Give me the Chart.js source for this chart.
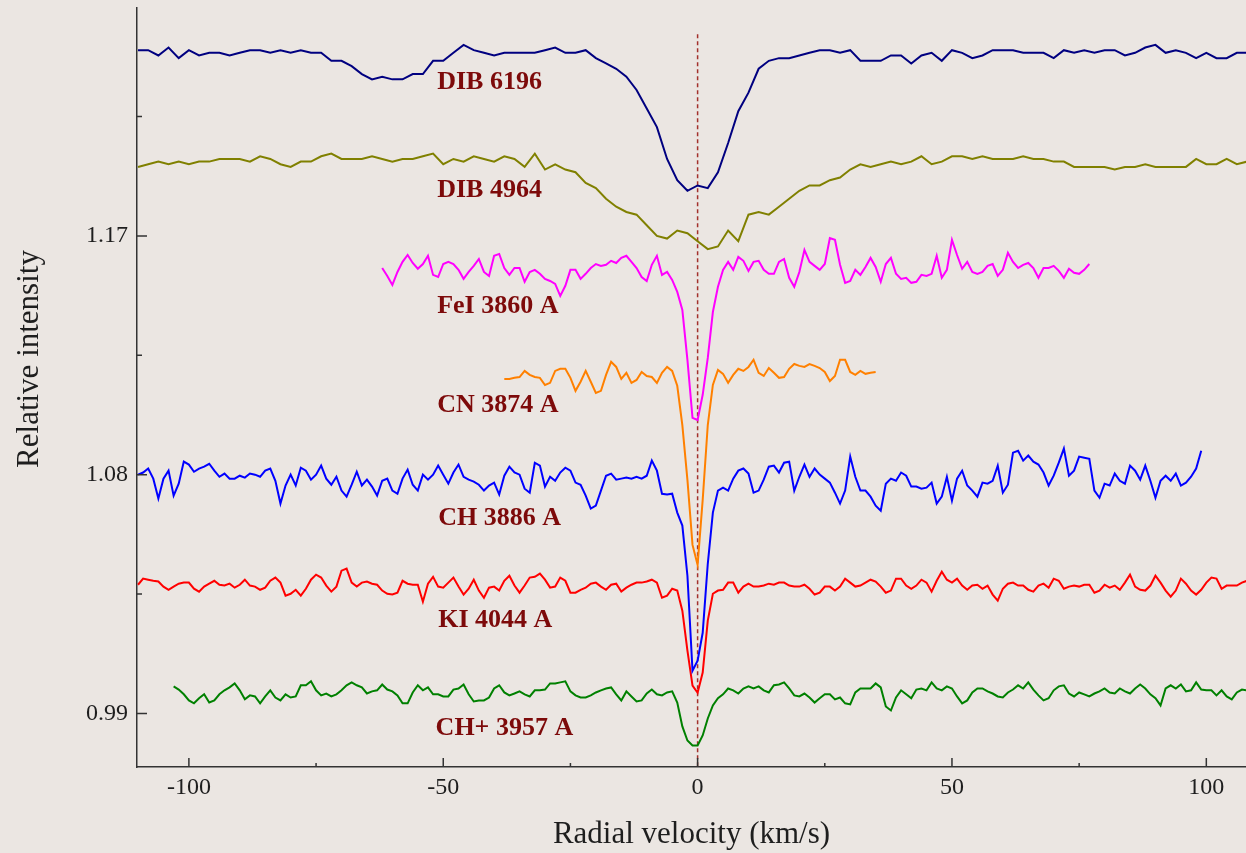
<!DOCTYPE html>
<html>
<head>
<meta charset="utf-8">
<title>Interstellar lines</title>
<script src="https://cdn.jsdelivr.net/npm/chart.js@4.4.1/dist/chart.umd.min.js"></script>
<style>
    html, body { margin: 0; padding: 0; background: #ebe6e2; }
    #wrap { position: relative; width: 1246px; height: 853px; }
</style>
</head>
<body>
<div id="wrap"><canvas id="spectra"></canvas></div>
<script>
/* ---- data: relative intensity vs radial velocity (km/s) ---- */

// DIB 6196, sampled every 2 km/s from -110
const dib6196Start = -110, dib6196Step = 2;
const dib6196 = [
    1.240,1.240,1.238,1.241,1.237,1.240,1.238,1.239,1.239,1.238,
    1.239,1.240,1.240,1.239,1.240,1.239,1.240,1.239,1.239,1.236,
    1.236,1.234,1.231,1.229,1.230,1.229,1.229,1.231,1.231,1.236,
    1.236,1.239,1.242,1.240,1.239,1.238,1.239,1.239,1.239,1.239,
    1.240,1.241,1.239,1.239,1.240,1.237,1.235,1.233,1.230,1.225,
    1.218,1.211,1.199,1.191,1.187,1.189,1.188,1.194,1.205,1.217,
    1.224,1.233,1.236,1.237,1.237,1.238,1.239,1.240,1.240,1.239,
    1.240,1.236,1.236,1.236,1.238,1.238,1.235,1.238,1.239,1.236,
    1.240,1.239,1.237,1.238,1.240,1.240,1.240,1.239,1.239,1.239,
    1.237,1.240,1.239,1.240,1.239,1.240,1.240,1.238,1.239,1.241,
    1.242,1.239,1.240,1.239,1.237,1.239,1.237,1.237,1.239,1.239
];

// DIB 4964, every 2 km/s from -110
const dib4964Start = -110, dib4964Step = 2;
const dib4964 = [
    1.196,1.197,1.198,1.197,1.198,1.197,1.198,1.198,1.199,1.199,
    1.199,1.198,1.200,1.199,1.197,1.196,1.198,1.198,1.200,1.201,
    1.199,1.199,1.199,1.200,1.199,1.198,1.199,1.199,1.200,1.201,
    1.197,1.199,1.198,1.200,1.199,1.198,1.200,1.199,1.196,1.201,
    1.195,1.197,1.195,1.194,1.190,1.188,1.184,1.181,1.179,1.178,
    1.174,1.170,1.169,1.172,1.171,1.168,1.165,1.166,1.172,1.168,
    1.178,1.179,1.178,1.181,1.184,1.187,1.189,1.189,1.191,1.192,
    1.195,1.197,1.196,1.197,1.198,1.197,1.198,1.200,1.197,1.198,
    1.200,1.200,1.199,1.200,1.199,1.199,1.199,1.200,1.199,1.199,
    1.198,1.198,1.196,1.196,1.196,1.196,1.195,1.196,1.196,1.197,
    1.196,1.196,1.196,1.196,1.199,1.197,1.197,1.199,1.197,1.198
];

// FeI 3860 A, every 1 km/s from -62
const feiStart = -62, feiStep = 1;
const fei3860 = [
    1.1579,1.1549,1.1515,1.1564,1.1602,1.1628,1.1598,1.1576,1.1594,1.1625,
    1.1553,1.1545,1.1594,1.1602,1.1594,1.1572,1.1538,1.1564,1.1587,1.1613,
    1.1564,1.1549,1.1625,1.1632,1.1579,1.1553,1.1579,1.1579,1.1527,1.1564,
    1.1572,1.1557,1.1538,1.1530,1.1519,1.1474,1.1512,1.1572,1.1572,1.1538,
    1.1557,1.1579,1.1594,1.1587,1.1591,1.1606,1.1598,1.1617,1.1625,1.1602,
    1.1579,1.1545,1.1530,1.1591,1.1625,1.1553,1.1564,1.1534,1.1489,1.1421,
    1.1233,1.1014,1.1006,1.1101,1.1240,1.1413,1.1508,1.1572,1.1602,1.1572,
    1.1621,1.1606,1.1568,1.1602,1.1606,1.1572,1.1557,1.1557,1.1602,1.1613,
    1.1542,1.1508,1.1564,1.1647,1.1602,1.1587,1.1572,1.1594,1.1692,1.1685,
    1.1591,1.1523,1.1530,1.1572,1.1553,1.1583,1.1617,1.1583,1.1527,1.1594,
    1.1617,1.1557,1.1538,1.1542,1.1523,1.1527,1.1553,1.1549,1.1557,1.1625,
    1.1542,1.1572,1.1685,1.1628,1.1576,1.1602,1.1564,1.1557,1.1564,1.1587,
    1.1594,1.1549,1.1572,1.1636,1.1602,1.1579,1.1591,1.1598,1.1579,1.1542,
    1.1579,1.1579,1.1587,1.1568,1.1542,1.1576,1.1561,1.1557,1.1572,1.1594
];

// CN 3874 A, every 1 km/s from -38
const cnStart = -38, cnStep = 1;
const cn3874 = [
    1.1161,1.1161,1.1165,1.1168,1.1191,1.1176,1.1168,1.1165,1.1138,1.1146,
    1.1191,1.1199,1.1199,1.1165,1.1116,1.1150,1.1191,1.1150,1.1108,1.1116,
    1.1176,1.1225,1.1206,1.1161,1.1184,1.1146,1.1157,1.1187,1.1172,1.1168,
    1.1146,1.1184,1.1206,1.1191,1.1135,1.0987,1.0780,1.0535,1.0460,1.0705,
    1.0987,1.1138,1.1195,1.1180,1.1146,1.1176,1.1199,1.1191,1.1206,1.1233,
    1.1184,1.1172,1.1202,1.1184,1.1165,1.1168,1.1199,1.1217,1.1210,1.1206,
    1.1217,1.1210,1.1202,1.1187,1.1153,1.1172,1.1233,1.1233,1.1187,1.1176,
    1.1191,1.1180,1.1184,1.1187
];

// CH 3886 A, every 1 km/s from -110
const chStart = -110, chStep = 1;
const ch3886 = [
    1.0800,1.0808,1.0823,1.0785,1.0710,1.0785,1.0815,1.0721,1.0766,1.0849,
    1.0838,1.0811,1.0823,1.0830,1.0841,1.0815,1.0792,1.0804,1.0785,1.0785,
    1.0796,1.0789,1.0804,1.0800,1.0792,1.0815,1.0823,1.0777,1.0691,1.0759,
    1.0800,1.0759,1.0826,1.0815,1.0781,1.0800,1.0834,1.0785,1.0762,1.0792,
    1.0740,1.0717,1.0762,1.0811,1.0759,1.0781,1.0755,1.0721,1.0777,1.0785,
    1.0740,1.0728,1.0785,1.0819,1.0762,1.0740,1.0800,1.0781,1.0800,1.0834,
    1.0800,1.0766,1.0808,1.0838,1.0792,1.0781,1.0774,1.0762,1.0740,1.0759,
    1.0770,1.0725,1.0796,1.0830,1.0808,1.0800,1.0747,1.0732,1.0845,1.0834,
    1.0755,1.0792,1.0777,1.0808,1.0826,1.0815,1.0770,1.0762,1.0721,1.0672,
    1.0683,1.0740,1.0796,1.0804,1.0781,1.0785,1.0789,1.0785,1.0792,1.0785,
    1.0796,1.0853,1.0815,1.0728,1.0725,1.0728,1.0657,1.0608,1.0419,1.0061,
    1.0099,1.0204,1.0464,1.0657,1.0740,1.0751,1.0740,1.0785,1.0815,1.0823,
    1.0804,1.0732,1.0740,1.0781,1.0830,1.0834,1.0808,1.0845,1.0849,1.0740,
    1.0792,1.0838,1.0792,1.0823,1.0800,1.0785,1.0770,1.0732,1.0691,1.0740,
    1.0868,1.0792,1.0740,1.0740,1.0717,1.0683,1.0664,1.0766,1.0785,1.0777,
    1.0808,1.0796,1.0755,1.0755,1.0747,1.0751,1.0770,1.0691,1.0717,1.0792,
    1.0702,1.0785,1.0815,1.0759,1.0740,1.0717,1.0770,1.0766,1.0777,1.0834,
    1.0732,1.0762,1.0883,1.0890,1.0853,1.0872,1.0849,1.0838,1.0808,1.0759,
    1.0796,1.0845,1.0898,1.0796,1.0815,1.0868,1.0864,1.0860,1.0740,1.0713,
    1.0766,1.0759,1.0804,1.0777,1.0766,1.0834,1.0815,1.0781,1.0834,1.0777,
    1.0713,1.0777,1.0796,1.0777,1.0804,1.0759,1.0770,1.0792,1.0823,1.0890
];

// KI 4044 A, every 1 km/s from -110
const kiStart = -110, kiStep = 1;
const ki4044 = [
    1.0385,1.0408,1.0404,1.0400,1.0397,1.0378,1.0366,1.0378,1.0389,1.0393,
    1.0393,1.0370,1.0359,1.0378,1.0389,1.0400,1.0385,1.0382,1.0389,1.0374,
    1.0385,1.0404,1.0382,1.0378,1.0366,1.0374,1.0400,1.0412,1.0393,1.0344,
    1.0351,1.0366,1.0344,1.0370,1.0404,1.0423,1.0412,1.0382,1.0359,1.0378,
    1.0438,1.0446,1.0393,1.0378,1.0393,1.0397,1.0389,1.0385,1.0363,1.0351,
    1.0348,1.0355,1.0400,1.0389,1.0385,1.0385,1.0321,1.0389,1.0415,1.0378,
    1.0374,1.0393,1.0412,1.0378,1.0348,1.0370,1.0404,1.0363,1.0336,1.0374,
    1.0378,1.0363,1.0400,1.0419,1.0382,1.0355,1.0382,1.0412,1.0415,1.0427,
    1.0404,1.0374,1.0378,1.0412,1.0400,1.0355,1.0355,1.0366,1.0374,1.0389,
    1.0393,1.0378,1.0366,1.0385,1.0389,1.0359,1.0374,1.0385,1.0393,1.0393,
    1.0397,1.0404,1.0393,1.0336,1.0344,1.0370,1.0363,1.0287,1.0137,1.0005,
    0.9978,1.0054,1.0250,1.0351,1.0363,1.0366,1.0393,1.0393,1.0355,1.0378,
    1.0389,1.0378,1.0378,1.0382,1.0389,1.0385,1.0393,1.0393,1.0382,1.0378,
    1.0378,1.0385,1.0370,1.0348,1.0355,1.0378,1.0378,1.0363,1.0378,1.0408,
    1.0393,1.0378,1.0382,1.0393,1.0404,1.0397,1.0378,1.0355,1.0363,1.0408,
    1.0408,1.0382,1.0370,1.0382,1.0404,1.0393,1.0359,1.0400,1.0434,1.0404,
    1.0393,1.0408,1.0382,1.0366,1.0382,1.0385,1.0370,1.0382,1.0348,1.0325,
    1.0370,1.0389,1.0393,1.0382,1.0382,1.0366,1.0359,1.0382,1.0389,1.0374,
    1.0408,1.0400,1.0370,1.0378,1.0382,1.0378,1.0385,1.0385,1.0355,1.0363,
    1.0385,1.0374,1.0382,1.0366,1.0393,1.0423,1.0378,1.0366,1.0363,1.0382,
    1.0419,1.0393,1.0363,1.0340,1.0363,1.0408,1.0389,1.0363,1.0348,1.0366,
    1.0393,1.0412,1.0408,1.0370,1.0382,1.0382,1.0382,1.0393,1.0400
];

// CH+ 3957 A, every 1 km/s from -103
const chpStart = -103, chpStep = 1;
const chp3957 = [
    1.0002,0.9990,0.9972,0.9949,0.9938,0.9957,0.9972,0.9941,0.9949,0.9972,
    0.9987,0.9998,1.0013,0.9987,0.9953,0.9968,0.9964,0.9938,0.9964,0.9987,
    0.9960,0.9949,0.9972,0.9960,0.9964,1.0006,1.0006,1.0021,0.9987,0.9968,
    0.9975,0.9964,0.9972,0.9987,1.0006,1.0017,1.0006,0.9998,0.9975,0.9983,
    0.9987,1.0009,0.9990,0.9983,0.9968,0.9938,0.9938,0.9979,1.0006,0.9987,
    0.9998,0.9972,0.9972,0.9964,0.9964,0.9990,0.9994,1.0009,0.9972,0.9945,
    0.9949,0.9949,0.9960,0.9994,1.0006,0.9979,0.9968,0.9975,0.9983,0.9972,
    0.9964,0.9987,0.9987,0.9990,1.0013,1.0013,1.0017,1.0021,0.9983,0.9968,
    0.9960,0.9960,0.9968,0.9979,0.9987,0.9994,0.9998,0.9972,0.9949,0.9983,
    0.9964,0.9945,0.9949,0.9975,0.9990,0.9972,0.9968,0.9979,0.9983,0.9941,
    0.9851,0.9798,0.9779,0.9779,0.9817,0.9881,0.9930,0.9957,0.9972,0.9994,
    0.9987,0.9975,0.9994,1.0002,0.9994,1.0002,0.9987,0.9979,1.0006,1.0009,
    1.0017,0.9994,0.9968,0.9964,0.9975,0.9960,0.9941,0.9957,0.9972,0.9972,
    0.9953,0.9960,0.9938,0.9934,0.9979,0.9994,0.9994,0.9994,1.0013,0.9998,
    0.9926,0.9911,0.9960,0.9987,0.9972,0.9957,0.9990,0.9994,0.9987,1.0017,
    0.9994,0.9987,1.0002,0.9994,0.9964,0.9938,0.9949,0.9979,0.9994,0.9994,
    0.9983,0.9975,0.9964,0.9960,0.9979,0.9990,1.0006,0.9994,1.0017,0.9990,
    0.9968,0.9949,0.9957,0.9987,1.0002,1.0006,0.9975,0.9964,0.9979,0.9972,
    0.9964,0.9975,0.9983,0.9994,0.9979,0.9975,0.9994,0.9983,0.9975,0.9994,
    1.0009,0.9994,0.9972,0.9957,0.9930,0.9994,1.0006,0.9994,1.0009,0.9983,
    0.9987,1.0017,0.9990,0.9987,0.9987,0.9968,0.9987,0.9964,0.9953,0.9979,
    0.9990,0.9987
];

// line labels and where they sit (velocity, intensity of baseline)
const lineNames  = ['DIB 6196', 'DIB 4964', 'FeI 3860 A', 'CN 3874 A', 'CH 3886 A', 'KI 4044 A', 'CH+ 3957 A'];
const labelVel   = [-51.2, -51.2, -51.2, -51.2, -51.0, -51.0, -51.5];
const labelLevel = [1.2254, 1.1848, 1.1410, 1.1038, 1.0611, 1.0227, 0.9819];
const lineColors = ['#000080', '#808000', '#ff00ff', '#ff8000', '#0000ff', '#ff0000', '#008000'];

// axes
const xTickValues = [-100, -75, -50, -25, 0, 25, 50, 75, 100];
const xTickLabels = ['-100', '', '-50', '', '0', '', '50', '', '100'];
const yTickValues = [0.99, 1.035, 1.08, 1.125, 1.17, 1.215];
const yTickLabels = ['0.99', '', '1.08', '', '1.17', ''];
const zeroLineTop = 1.246;

const SERIF = "'Liberation Serif', 'DejaVu Serif', serif";
const INK   = '#1e1e1e';

const toPoints = (start, step, vals) => vals.map((v, i) => ({ x: start + i * step, y: v }));

const series = [
    toPoints(dib6196Start, dib6196Step, dib6196),
    toPoints(dib4964Start, dib4964Step, dib4964),
    toPoints(feiStart, feiStep, fei3860),
    toPoints(cnStart, cnStep, cn3874),
    toPoints(chStart, chStep, ch3886),
    toPoints(kiStart, kiStep, ki4044),
    toPoints(chpStart, chpStep, chp3957)
];

// dotted line at v = 0, inward tick marks, line names, y title
const decor = {
    id: 'decor',
    beforeDatasetsDraw(chart) {
        const { ctx, chartArea: a, scales: { x, y } } = chart;
        const px = x.getPixelForValue(0);
        ctx.save();
        ctx.strokeStyle = '#a3302c';
        ctx.lineWidth = 1.5;
        ctx.setLineDash([4, 3]);
        ctx.beginPath();
        ctx.moveTo(px, y.getPixelForValue(zeroLineTop));
        ctx.lineTo(px, a.bottom);
        ctx.stroke();
        ctx.restore();
    },
    afterDraw(chart) {
        const { ctx, chartArea: a, scales: { x, y } } = chart;
        ctx.save();
        ctx.strokeStyle = '#333';
        ctx.lineWidth = 1.5;
        ctx.beginPath();
        xTickValues.forEach(v => {
            const px = x.getPixelForValue(v);
            const len = v % 50 === 0 ? 9 : 4;
            ctx.moveTo(px, a.bottom);
            ctx.lineTo(px, a.bottom - len);
        });
        yTickValues.forEach((v, i) => {
            const py = y.getPixelForValue(v);
            const len = i % 2 === 0 ? 10 : 5;
            ctx.moveTo(a.left, py);
            ctx.lineTo(a.left + len, py);
        });
        ctx.stroke();

        // line names
        ctx.fillStyle = '#7d0a0a';
        ctx.font = 'bold 26px ' + SERIF;
        ctx.textAlign = 'left';
        ctx.textBaseline = 'alphabetic';
        lineNames.forEach((name, i) => {
            ctx.fillText(name, x.getPixelForValue(labelVel[i]), y.getPixelForValue(labelLevel[i]));
        });

        // y axis title
        ctx.fillStyle = INK;
        ctx.font = '31px ' + SERIF;
        ctx.textAlign = 'center';
        ctx.textBaseline = 'middle';
        ctx.translate(30, 359);
        ctx.rotate(-Math.PI / 2);
        ctx.fillText('Relative intensity', 0, 0);
        ctx.restore();
    }
};

new Chart(document.getElementById('spectra'), {
    type: 'line',
    data: {
        datasets: series.map((pts, i) => ({
            label: lineNames[i],
            data: pts,
            borderColor: lineColors[i],
            borderWidth: 2,
            pointRadius: 0,
            tension: 0,
            fill: false
        }))
    },
    options: {
        responsive: true,
        maintainAspectRatio: false,
        animation: false,
        layout: { padding: { top: 8, right: 0, left: 0, bottom: 0 } },
        plugins: { legend: { display: false }, tooltip: { enabled: false } },
        scales: {
            x: {
                type: 'linear',
                min: -110.2,
                max: 107.8,
                afterBuildTicks: s => { s.ticks = xTickValues.map(v => ({ value: v })); },
                afterFit: s => { s.height = 86; s.paddingLeft = 0; s.paddingRight = 0; },
                grid: { display: false, drawTicks: false },
                border: { display: true, color: '#333', width: 1.5 },
                ticks: {
                    autoSkip: false, maxRotation: 0, padding: 6,
                    color: INK, font: { family: SERIF, size: 24 },
                    callback: (val, idx) => xTickLabels[idx]
                },
                title: {
                    display: true, text: 'Radial velocity (km/s)', color: INK,
                    font: { family: SERIF, size: 31 }, padding: { top: 0, bottom: 0 }
                }
            },
            y: {
                type: 'linear',
                min: 0.9698,
                max: 1.2559,
                afterBuildTicks: s => { s.ticks = yTickValues.map(v => ({ value: v })); },
                afterFit: s => { s.width = 137; s.paddingTop = 0; s.paddingBottom = 0; },
                grid: { display: false, drawTicks: false },
                border: { display: true, color: '#333', width: 1.5 },
                ticks: {
                    autoSkip: false, padding: 9,
                    color: INK, font: { family: SERIF, size: 24 },
                    callback: (val, idx) => yTickLabels[idx]
                }
            }
        }
    },
    plugins: [decor]
});
</script>
</body>
</html>
